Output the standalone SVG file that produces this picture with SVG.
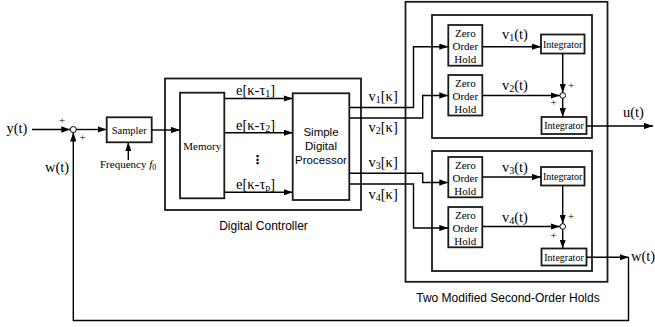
<svg xmlns="http://www.w3.org/2000/svg" width="655" height="327" viewBox="0 0 655 327">
<style>
.box{fill:none;stroke:#1a1a1a;stroke-width:1.8}
.wbox{fill:#fff;stroke:#1a1a1a;stroke-width:1.8}
.ln{fill:none;stroke:#000;stroke-width:1.4}
.ser{font-family:"Liberation Serif","Times New Roman",serif;fill:#000}
.sans{font-family:"Liberation Sans",Arial,sans-serif;fill:#000}
.lbl{font-size:14.5px}
.sm{font-size:11px}
.int{font-size:10px}
.mid{text-anchor:middle}
.sub{font-size:10px}
</style>
<defs>
<marker id="ah" viewBox="0 0 10 7" refX="10" refY="3.5" markerWidth="9" markerHeight="6.3" markerUnits="userSpaceOnUse" orient="auto">
<path d="M0,0 L10,3.5 L0,7 z" fill="#000"/>
</marker>
</defs>

<g id="outer-controller"><rect class="box" x="165" y="78.5" width="196" height="131.5"/>
<text class="sans mid" x="263.5" y="230" font-size="12">Digital Controller</text></g>
<g id="outer-holds"><rect class="box" x="405.5" y="1.8" width="202" height="280"/>
<text class="sans mid" x="508" y="302" font-size="12">Two Modified Second-Order Holds</text></g>
<g id="hold1"><rect class="box" x="432" y="15" width="160" height="123"/></g>
<g id="hold2"><rect class="box" x="432" y="151" width="160" height="120"/></g>

<g id="input-labels">
<text class="ser lbl" x="6.5" y="133">y(t)</text>
<text class="ser lbl" x="45" y="172">w(t)</text>
<text class="ser mid" x="62" y="124" font-size="11">+</text>
<text class="ser mid" x="82.5" y="141" font-size="11">+</text>
</g>
<g id="sum0"><circle cx="73.3" cy="129.5" r="3" fill="#fff" stroke="#000" stroke-width="1"/></g>
<g id="sampler"><rect class="wbox" x="106.7" y="117.3" width="45" height="25"/>
<text class="ser mid" x="129.2" y="133.5" font-size="10.5">Sampler</text></g>
<g id="frequency"><text class="ser" x="100" y="167.5" font-size="11">Frequency <tspan font-style="italic">f</tspan><tspan font-size="8" dy="2">0</tspan></text></g>

<g id="memory"><rect class="wbox" x="180" y="92.7" width="44.3" height="105.6"/>
<text class="ser mid" x="202.2" y="149.5" font-size="11">Memory</text></g>
<g id="processor"><rect class="wbox" x="292.7" y="93.3" width="56.6" height="106.7"/>
<text class="sans mid" x="321" y="136" font-size="11.5">Simple</text>
<text class="sans mid" x="321" y="149.8" font-size="11.5">Digital</text>
<text class="sans mid" x="321" y="163.5" font-size="11.5">Processor</text></g>

<g id="e-labels">
<text class="ser lbl" x="236" y="95">e[κ-τ<tspan class="sub" dy="2">1</tspan><tspan dy="-2">]</tspan></text>
<text class="ser lbl" x="236" y="129.5">e[κ-τ<tspan class="sub" dy="2">2</tspan><tspan dy="-2">]</tspan></text>
<text class="ser lbl" x="236" y="188.5">e[κ-τ<tspan class="sub" dy="2">p</tspan><tspan dy="-2">]</tspan></text>
<text class="mid" x="257.5" y="164" font-family="DejaVu Sans,sans-serif" font-size="12" font-weight="bold">⋮</text>
</g>

<g id="v-labels">
<text class="ser lbl" x="368.5" y="101">v<tspan class="sub" dy="2">1</tspan><tspan dy="-2">[κ]</tspan></text>
<text class="ser lbl" x="368.5" y="132">v<tspan class="sub" dy="2">2</tspan><tspan dy="-2">[κ]</tspan></text>
<text class="ser lbl" x="368.5" y="167">v<tspan class="sub" dy="2">3</tspan><tspan dy="-2">[κ]</tspan></text>
<text class="ser lbl" x="368.5" y="199">v<tspan class="sub" dy="2">4</tspan><tspan dy="-2">[κ]</tspan></text>
</g>

<g id="zoh1"><rect class="wbox" x="448.3" y="25" width="34" height="40.7"/>
<text class="ser mid sm" x="465.3" y="36.7">Zero</text><text class="ser mid sm" x="465.3" y="50">Order</text><text class="ser mid sm" x="465.3" y="63.3">Hold</text></g>
<g id="zoh2"><rect class="wbox" x="448.3" y="75" width="34" height="40.5"/>
<text class="ser mid sm" x="465.3" y="86.7">Zero</text><text class="ser mid sm" x="465.3" y="100">Order</text><text class="ser mid sm" x="465.3" y="113.3">Hold</text></g>
<g id="zoh3"><rect class="wbox" x="448.3" y="157" width="34" height="40.3"/>
<text class="ser mid sm" x="465.3" y="168.7">Zero</text><text class="ser mid sm" x="465.3" y="182">Order</text><text class="ser mid sm" x="465.3" y="195.3">Hold</text></g>
<g id="zoh4"><rect class="wbox" x="448.3" y="207" width="34" height="40.3"/>
<text class="ser mid sm" x="465.3" y="218.7">Zero</text><text class="ser mid sm" x="465.3" y="232">Order</text><text class="ser mid sm" x="465.3" y="245.3">Hold</text></g>

<g id="t-labels">
<text class="ser lbl" x="502" y="39">v<tspan class="sub" dy="2">1</tspan><tspan dy="-2">(t)</tspan></text>
<text class="ser lbl" x="502" y="90">v<tspan class="sub" dy="2">2</tspan><tspan dy="-2">(t)</tspan></text>
<text class="ser lbl" x="502" y="171.5">v<tspan class="sub" dy="2">3</tspan><tspan dy="-2">(t)</tspan></text>
<text class="ser lbl" x="502" y="221.5">v<tspan class="sub" dy="2">4</tspan><tspan dy="-2">(t)</tspan></text>
<text class="ser lbl" x="623" y="117">u(t)</text>
<text class="ser lbl" x="631" y="261">w(t)</text>
</g>

<g id="int1"><rect class="wbox" x="541" y="34.5" width="43.5" height="19"/><text class="ser mid int" x="562.7" y="47.5">Integrator</text></g>
<g id="int2"><rect class="wbox" x="541.5" y="117" width="45" height="17"/><text class="ser mid int" x="564" y="129">Integrator</text></g>
<g id="int3"><rect class="wbox" x="541" y="167" width="43.5" height="18.5"/><text class="ser mid int" x="562.7" y="180">Integrator</text></g>
<g id="int4"><rect class="wbox" x="541.5" y="248.5" width="45" height="17"/><text class="ser mid int" x="564" y="260.5">Integrator</text></g>

<g id="sum1"><circle cx="562.7" cy="95.5" r="2.8" fill="#fff" stroke="#000" stroke-width="1"/>
<text class="ser mid" x="571" y="88.5" font-size="11">+</text><text class="ser mid" x="553.5" y="106" font-size="11">+</text></g>
<g id="sum2"><circle cx="562.7" cy="226.5" r="2.8" fill="#fff" stroke="#000" stroke-width="1"/>
<text class="ser mid" x="571" y="219.5" font-size="11">+</text><text class="ser mid" x="553.5" y="238.5" font-size="11">+</text></g>

<g id="connectors">
<path class="ln" d="M32,129.5 H70.3" marker-end="url(#ah)"/>
<path class="ln" d="M76.3,129.5 H106.7" marker-end="url(#ah)"/>
<path class="ln" d="M128.3,160 V142.3" marker-end="url(#ah)"/>
<path class="ln" d="M151.7,130 H180" marker-end="url(#ah)"/>
<path class="ln" d="M224.3,98.5 H292.7" marker-end="url(#ah)"/>
<path class="ln" d="M224.3,132.7 H292.7" marker-end="url(#ah)"/>
<path class="ln" d="M224.3,192.3 H292.7" marker-end="url(#ah)"/>
<path class="ln" d="M349.3,107.5 H413.5 V46.7 H448.3" marker-end="url(#ah)"/>
<path class="ln" d="M349.3,118 H422.7 V95.5 H448.3" marker-end="url(#ah)"/>
<path class="ln" d="M349.3,173.3 H422.7 V182.5 H448.3" marker-end="url(#ah)"/>
<path class="ln" d="M349.3,184 H413.5 V228 H448.3" marker-end="url(#ah)"/>
<path class="ln" d="M482.3,46.7 H541" marker-end="url(#ah)"/>
<path class="ln" d="M482.3,95.5 H559.9" marker-end="url(#ah)"/>
<path class="ln" d="M562.7,53.5 V92.7" marker-end="url(#ah)"/>
<path class="ln" d="M562.7,98.3 V117" marker-end="url(#ah)"/>
<path class="ln" d="M586.5,126 H653" marker-end="url(#ah)"/>
<path class="ln" d="M482.3,177 H541" marker-end="url(#ah)"/>
<path class="ln" d="M482.3,226.5 H559.9" marker-end="url(#ah)"/>
<path class="ln" d="M562.7,185.5 V223.7" marker-end="url(#ah)"/>
<path class="ln" d="M562.7,229.3 V248.5" marker-end="url(#ah)"/>
<path class="ln" d="M586.5,257.3 H628.5" marker-end="url(#ah)"/>
<path class="ln" d="M628.5,257.3 V320.5 H73.3 V132.5" marker-end="url(#ah)"/>
</g>
</svg>
